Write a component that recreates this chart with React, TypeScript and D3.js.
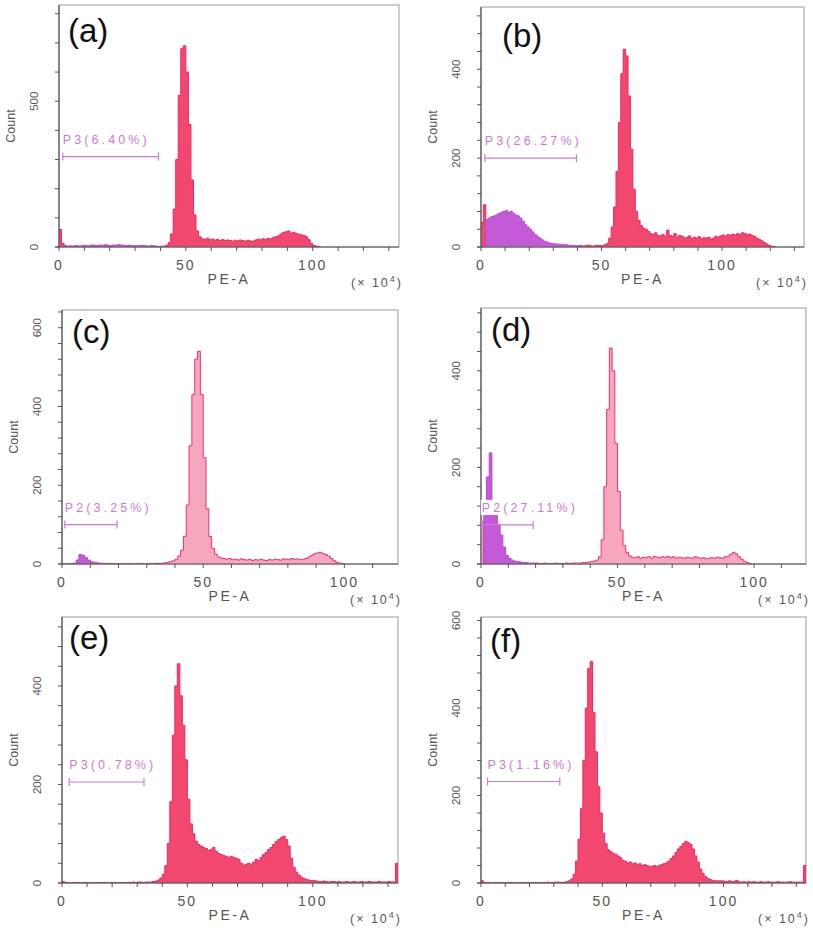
import React from "react";
import * as d3 from "d3";

// ---------- DATA (counts per 1-unit PE-A bin, x10^4, starting at bin 0) ----------
const A_RED = [60, 12,
  0, 0, 0, 0, 0, 0, 0, 0, 0, 0, 0, 0, 0, 0, 0, 0, 0, 0, 0, 0, 0, 0, 0, 0, 0, 0, 0, 0, 0, 0, 0, 0, 0, 0, 0, 0, 0, 0, 0,
  3, 6, 15, 45, 130, 300, 520, 680, 690, 600, 420, 230, 110, 55, 35, 28, 26, 30, 25, 27,
  24, 26, 22, 25, 23, 24, 22, 20, 23, 21, 24, 22, 20, 23, 21, 19, 24, 27, 25, 28,
  26, 30, 28, 32, 35, 38, 45, 50, 52, 55, 48, 50, 46, 44, 42, 40, 35, 25, 12, 5, 3, 2];
const A_GATE = [0, 0, 5, 3, 4, 3, 5, 4, 3, 6, 5, 4, 6, 7, 5, 6, 7, 6, 8, 6, 5, 7, 6, 8, 7, 6, 5, 6, 5, 4, 5, 4, 6, 5, 4, 3, 5, 4, 3, 2, 3];

const B_RED = [55, 95,
  0, 0, 0, 0, 0, 0, 0, 0, 0, 0, 0, 0, 0, 0, 0, 0, 0, 0, 0, 0, 0, 0, 0, 0, 0, 0, 0, 0, 0, 0, 0, 0, 0, 0, 0, 0, 0, 0, 0,
  3, 2, 3, 4, 3, 2, 3, 4, 3, 3, 5, 8, 20, 45, 90, 170, 280, 390, 445, 430,
  340, 220, 130, 80, 60, 48, 42, 40, 35, 30, 28, 32, 26, 25, 28, 24, 38, 26, 24, 30,
  22, 26, 24, 20, 22, 25, 19, 22, 20, 23, 18, 21, 20, 22, 18, 20, 24, 22, 25, 27,
  24, 28, 26, 29, 27, 30, 28, 32, 30, 28, 29, 26, 24, 20, 17, 14, 10, 7, 4, 2, 1];
const B_GATE = [0, 0, 62, 65, 68, 70, 72, 75, 78, 80, 82, 78, 80, 76, 72, 70, 65, 58, 50, 45, 40, 34, 28, 24, 20, 16, 13, 11, 9, 8, 7, 7, 6, 6, 5, 5, 4, 4, 3, 3, 3];

const C_RED = [0, 0, 0, 0, 0, 0, 0, 0, 0, 0, 0, 0, 0, 0, 0, 0, 0, 0, 0, 0,
  1, 1, 0, 1, 1, 0, 1, 1, 1, 0, 1, 1, 1, 2, 1, 2, 3, 4, 6, 8,
  12, 20, 35, 70, 150, 300, 430, 520, 540, 430, 270, 140, 70, 40, 25, 18, 15, 14, 12, 14,
  11, 12, 10, 13, 11, 10, 12, 9, 11, 10, 12, 10, 9, 11, 10, 12, 11, 10, 13, 12,
  11, 14, 12, 13, 11, 12, 14, 18, 22, 26, 28, 29, 27, 24, 20, 14, 8, 4, 2, 1];
const C_GATE = [0, 0, 1, 1, 2, 10, 24, 22, 16, 10, 6, 4, 3, 2, 2, 1, 1, 1, 1, 1];

const D_RED = [88, 0, 0, 0, 0, 0, 0, 0, 0, 0, 0, 0, 0, 0, 0, 0, 0, 0, 0, 0,
  2, 1, 1, 2, 1, 1, 1, 2, 1, 1, 1, 2, 1, 2, 2, 2, 2, 3, 3, 4,
  5, 6, 8, 15, 50, 160, 320, 447, 400, 250, 150, 70, 38, 24, 17, 14, 13, 15, 12, 14,
  13, 15, 12, 16, 14, 13, 15, 14, 16, 13, 15, 12, 14, 13, 12, 14, 13, 12, 15, 13,
  12, 13, 11, 12, 13, 12, 14, 13, 12, 15, 16, 20, 24, 21, 15, 10, 6, 3, 1];
const D_GATE = [0, 100, 180, 230, 110, 100, 82, 60, 35, 18, 12, 8, 6, 5, 4, 3, 3, 2, 2, 2];

const E_RED = [3, 1, 1, 0, 1, 1, 1, 0, 1, 1, 1, 1, 0, 1, 1, 1, 1, 1, 0, 1,
  1, 1, 1, 1, 1, 1, 1, 1, 2, 1, 2, 2, 1, 2, 2, 2, 3, 4, 6, 10,
  18, 35, 80, 165, 300, 400, 445, 380, 320, 250, 170, 120, 100, 85, 78, 75, 72, 70, 66, 68,
  72, 64, 60, 58, 56, 54, 52, 54, 52, 50, 48, 40, 36, 38, 40, 38, 42, 48, 45, 52,
  58, 62, 68, 72, 78, 84, 88, 92, 95, 88, 75, 50, 32, 22, 16, 12, 9, 7, 6, 5,
  5, 4, 3, 3, 4, 3, 2, 3, 3, 2, 3, 2, 2, 3, 2, 2, 3, 2, 2, 3,
  2, 2, 3, 2, 2, 2, 3, 2, 2, 2, 3, 2, 2, 40];
const E_GATE: number[] = [];

const F_RED = [5, 1, 1, 1, 0, 1, 1, 1, 1, 0, 1, 1, 1, 1, 1, 0, 1, 1, 1, 1,
  1, 1, 1, 1, 1, 1, 1, 2, 1, 1, 2, 2, 2, 1, 2, 3, 5, 9, 20, 50,
  100, 170, 280, 400, 490, 506, 390, 300, 220, 160, 114, 90, 76, 72, 68, 66, 62, 58, 52, 50,
  46, 48, 44, 46, 42, 44, 40, 42, 40, 38, 38, 40, 38, 40, 42, 44, 46, 50, 56, 62,
  70, 78, 84, 90, 95, 92, 88, 78, 62, 48, 32, 22, 15, 10, 8, 6, 5, 5, 5, 5,
  4, 3, 5, 3, 4, 6, 3, 2, 3, 2, 3, 2, 3, 2, 2, 3, 2, 2, 3, 2,
  2, 2, 3, 2, 2, 2, 2, 3, 2, 2, 2, 2, 2, 40];
const F_GATE: number[] = [];

const PANEL_NAMES = ["(a)", "(b)", "(c)", "(d)", "(e)", "(f)"];
const GATE_LABELS = ["P3(6.40%)", "P3(26.27%)", "P2(3.25%)", "P2(27.11%)", "P3(0.78%)", "P3(1.16%)"];
const GATE_RANGES = [[1.5, 39.2], [1.6, 39.6], [1, 19.5], [0.3, 19.1], [2.9, 32.7], [2.7, 32.5]];
const GATE_LEVELS = [310, 200, 100, 81, 205, 232];
const X_MAX = [134, 134, 119, 119, 134, 134];
const Y_MAX = [830, 540, 645, 530, 540, 608];
const Y_LABEL_TICKS = [[0, 500], [0, 200, 400], [0, 200, 400, 600], [0, 200, 400], [0, 200, 400], [0, 200, 400, 600]];
const Y_MINOR_STEP = [100, 40, 40, 40, 40, 40];
const X_LABEL_TICKS = [0, 50, 100];
const X_MINOR_STEP = 10;
const RED_SERIES = [A_RED, B_RED, C_RED, D_RED, E_RED, F_RED];
const GATE_SERIES = [A_GATE, B_GATE, C_GATE, D_GATE, E_GATE, F_GATE];

// ---------- LAYOUT ----------
const LAYOUT = [
  { left: 59, top: 5, right: 399, bottom: 247, ldx: 9, ldy: 37, light: false },
  { left: 481, top: 7, right: 804, bottom: 247, ldx: 21, ldy: 40, light: false },
  { left: 62, top: 310, right: 398, bottom: 564, ldx: 10, ldy: 33, light: true },
  { left: 481, top: 308, right: 806, bottom: 564, ldx: 10, ldy: 33, light: true },
  { left: 62, top: 617, right: 398, bottom: 883, ldx: 7, ldy: 32, light: false },
  { left: 481, top: 617, right: 806, bottom: 883, ldx: 9, ldy: 35, light: false },
];

const FONT = "'Liberation Sans', Arial, sans-serif";
const AXIS_TEXT = "#555";
const GATE_COLOR = "#cf78d8";

function Hist({ counts, x, y, fill, stroke, id }: any) {
  if (!counts.length) return null;
  const pts: number[][] = counts.map((c: number, i: number) => [i, c]);
  pts.push([counts.length, 0]);
  const area = d3.area<number[]>().x(d => x(d[0])).y0(y(0)).y1(d => y(d[1])).curve(d3.curveStepAfter);
  const line = d3.line<number[]>().x(d => x(d[0])).y(d => y(d[1])).curve(d3.curveStepAfter);
  return (
    <g clipPath={`url(#${id})`}>
      <path d={area(pts) || ""} fill={fill} />
      <path d={line(pts) || ""} fill="none" stroke={stroke} strokeWidth={1} />
    </g>
  );
}

function Panel({ i }: { i: number }) {
  const L = LAYOUT[i];
  const x = d3.scaleLinear().domain([0, X_MAX[i]]).range([L.left, L.right]);
  const y = d3.scaleLinear().domain([0, Y_MAX[i]]).range([L.bottom, L.top]);
  const xMinor = d3.range(0, X_MAX[i], X_MINOR_STEP);
  const yMinor = d3.range(0, Y_MAX[i], Y_MINOR_STEP[i]);
  const clipId = `clip${i}`;
  const redFill = L.light ? "#f6a6bd" : "#f2476f";
  const redStroke = L.light ? "#f03068" : "#f7245c";
  const [g0, g1] = GATE_RANGES[i];
  const gy = y(GATE_LEVELS[i]);
  const midY = (L.top + L.bottom) / 2;
  const midX = (L.left + L.right) / 2;
  const label = GATE_LABELS[i];
  const labelW = label.length * 9.6;
  return (
    <g>
      <defs>
        <clipPath id={clipId}>
          <rect x={L.left} y={L.top} width={L.right - L.left} height={L.bottom - L.top} />
        </clipPath>
      </defs>
      <rect x={L.left} y={L.top} width={L.right - L.left} height={L.bottom - L.top} fill="#fff" stroke="#9a9a9a" strokeWidth={1} />
      <Hist counts={RED_SERIES[i]} x={x} y={y} fill={redFill} stroke={redStroke} id={clipId} />
      <Hist counts={GATE_SERIES[i]} x={x} y={y} fill="#c55ad8" stroke="#b848cf" id={clipId} />
      {/* axes */}
      <line x1={L.left} x2={L.left} y1={L.top} y2={L.bottom} stroke="#555" strokeWidth={1.2} />
      <line x1={L.left - 4} x2={L.right} y1={L.bottom} y2={L.bottom} stroke="#555" strokeWidth={1.2} />
      {yMinor.map(v => (
        <line key={"yt" + v} x1={L.left - 4} x2={L.left} y1={y(v)} y2={y(v)} stroke="#555" strokeWidth={1} />
      ))}
      {xMinor.map(v => (
        <line key={"xt" + v} x1={x(v)} x2={x(v)} y1={L.bottom} y2={L.bottom + 4} stroke="#555" strokeWidth={1} />
      ))}
      {Y_LABEL_TICKS[i].map(v => (
        <text key={"yl" + v} transform={`translate(${L.left - 21},${y(v)}) rotate(-90)`} textAnchor="middle"
          fontFamily={FONT} fontSize={11.5} fill={AXIS_TEXT}>{v}</text>
      ))}
      {X_LABEL_TICKS.map(v => (
        <text key={"xl" + v} x={x(v)} y={L.bottom + 23} textAnchor="middle" fontFamily={FONT} fontSize={14}
          letterSpacing={2} fill={AXIS_TEXT}>{v}</text>
      ))}
      <text transform={`translate(${L.left - 44},${midY}) rotate(-90)`} textAnchor="middle" fontFamily={FONT}
        fontSize={12.5} fill={AXIS_TEXT}>Count</text>
      <text x={midX} y={L.bottom + 37} textAnchor="middle" fontFamily={FONT} fontSize={14} letterSpacing={2.6}
        fill={AXIS_TEXT}>PE-A</text>
      <text x={L.right + 4} y={L.bottom + 40} textAnchor="end" fontFamily={FONT} fontSize={12.5} letterSpacing={2}
        fill={AXIS_TEXT}>(× 10<tspan dy={-5} fontSize={9}>4</tspan><tspan dy={5}>)</tspan></text>
      {/* gate */}
      <rect x={x(g0) - 1} y={gy - 25} width={labelW} height={15} fill="#fff" />
      <line x1={x(g0)} x2={x(g1)} y1={gy} y2={gy} stroke={GATE_COLOR} strokeWidth={1.2} />
      <line x1={x(g0)} x2={x(g0)} y1={gy - 4} y2={gy + 4} stroke={GATE_COLOR} strokeWidth={1.2} />
      <line x1={x(g1)} x2={x(g1)} y1={gy - 4} y2={gy + 4} stroke={GATE_COLOR} strokeWidth={1.2} />
      <text x={x(g0)} y={gy - 13} fontFamily={FONT} fontSize={12.5} letterSpacing={3.1} fill={GATE_COLOR}>{label}</text>
      {/* panel label */}
      <text x={L.left + L.ldx} y={L.top + L.ldy} fontFamily={FONT} fontSize={33} fill="#111">{PANEL_NAMES[i]}</text>
    </g>
  );
}

export default function App() {
  return (
    <svg width={813} height={930} style={{ position: "absolute", left: 0, top: 0, background: "#fff" }}>
      <rect width={813} height={930} fill="#fff" />
      {PANEL_NAMES.map((_, i) => <Panel key={i} i={i} />)}
    </svg>
  );
}
